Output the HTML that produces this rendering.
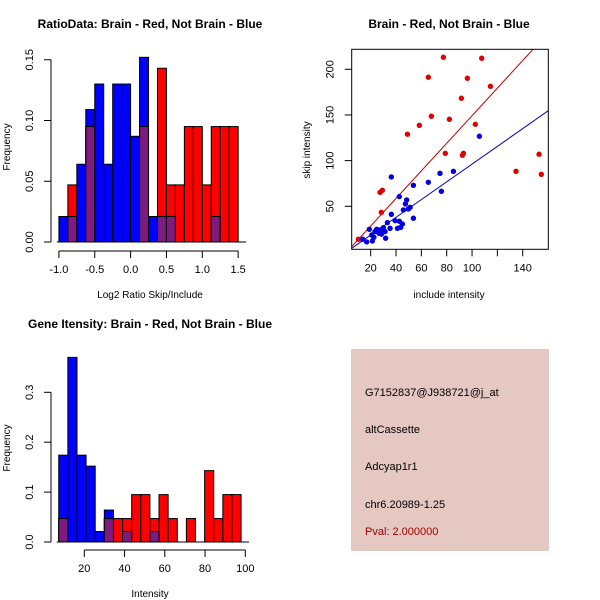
<!DOCTYPE html>
<html><head><meta charset="utf-8"><style>
body{margin:0;background:#fff}
svg{display:block;font-family:"Liberation Sans",Arial,sans-serif}
</style></head><body>
<svg id="c" width="600" height="600" viewBox="0 0 600 600">
<rect width="600" height="600" fill="#fff"/>
<g id="p1"></g>
<g id="p2"></g>
<g id="p3"></g>
<g>
<rect x="351" y="349" width="198" height="202" fill="#E6C8C2"/>
<text x="365" y="396" font-size="11" fill="#000">G7152837@J938721@j_at</text>
<text x="365" y="433" font-size="11" fill="#000">altCassette</text>
<text x="365" y="470" font-size="11" fill="#000">Adcyap1r1</text>
<text x="365" y="508" font-size="11" fill="#000">chr6.20989-1.25</text>
<text x="365" y="535" font-size="11" fill="#a00000">Pval: 2.000000</text>
</g>
</svg>
<script>
// ---- Ratio histogram data ----
const ratioBinStart = -1.0;
const ratioBinWidth = 0.125;
const ratioRed  = [0,0.047,0,0.095,0,0,0,0,0,0.095,0,0.143,0.047,0.047,0.095,0.095,0.047,0.095,0.095,0.095];
const ratioBlue = [0.021,0.021,0.064,0.109,0.130,0.064,0.130,0.130,0.087,0.152,0.021,0.021,0.021,0,0,0,0,0.021,0,0];
const ratioXTicks = [-1.0,-0.5,0.0,0.5,1.0,1.5];
const ratioYTicks = [0.00,0.05,0.10,0.15];
// ---- Intensity histogram data ----
const intBinStart = 7.3;
const intBinWidth = 4.53;
const intRed  = [0.047,0,0,0,0,0.047,0.047,0.047,0.095,0.095,0.047,0.095,0.047,0,0.047,0,0.143,0.047,0.095,0.095];
const intBlue = [0.174,0.370,0.174,0.152,0.021,0.064,0,0.021,0,0,0.021,0,0,0,0,0,0,0,0,0];
const intXTicks = [20,40,60,80,100];
const intYTicks = [0.0,0.1,0.2,0.3];
// ---- Scatter data ----
const redX  = [10.3,27.4,29.2,28.4,49.0,58.4,65.5,67.9,77.4,78.9,82.1,91.6,92.4,93.2,96.3,102.6,107.6,114.5,134.7,152.9,154.7];
const redY  = [13.9,65.3,67.5,43.4,128.9,138.7,191.3,148.6,213.2,108.0,145.3,168.3,105.9,108.0,190.2,139.8,212.1,181.4,88.3,107.0,85.0];
const blueX = [18.9,13.7,16.8,21.3,20.8,23.4,24.7,27.4,26.6,30.0,31.3,33.2,31.8,35.3,36.3,36.3,39.2,41.1,42.6,42.6,43.7,45.0,45.8,47.4,48.4,49.7,51.1,53.7,53.7,65.5,74.7,75.8,85.3,105.8,28.5,22.5];
const blueY = [24.8,13.9,11.0,12.0,18.6,22.3,24.8,24.1,20.4,26.6,22.3,32.1,15.0,25.9,41.2,82.1,34.3,25.9,33.6,60.6,27.0,30.6,46.0,52.6,56.9,47.1,48.9,73.0,36.9,76.3,86.1,66.4,88.3,126.7,19.5,16.0];
const redFit = [1.51,-1.8];   // slope, intercept
const blueFit = [0.971,-0.9];
const scXTicks = [20,40,60,80,100,120,140];
const scXLabels = ["20","40","60","80","100","","140"];
const scYTicks = [50,100,150,200];

const NS="http://www.w3.org/2000/svg";
function mk(parent,tag,attrs,txt){const e=document.createElementNS(NS,tag);for(const k in attrs)e.setAttribute(k,attrs[k]);if(txt!==undefined)e.textContent=txt;parent.appendChild(e);return e;}
const RED="#ff0000",BLUE="#0000ff",PURPLE="#7f1a7f";

function histogram(g,o){
  const sx=v=>o.x0px+(v-o.x0)*o.xs, sy=v=>o.y0px-v*o.ys;
  for(let i=0;i<o.red.length;i++){
    const a=o.binStart+i*o.binW,b=a+o.binW;
    const r=o.red[i],bl=o.blue[i],m=Math.min(r,bl);
    const parts=[[r,RED],[bl,BLUE],[m,PURPLE]];
    parts.forEach(([v,c],k)=>{ if(v<=0)return;
      const el=mk(g,'rect',{x:sx(a),y:sy(v),width:sx(b)-sx(a),height:sy(0)-sy(v),fill:c,stroke:'#000','stroke-width':1});
      
      
    });
  }
  const ya=mk(g,'line',{x1:o.axX,x2:o.axX,y1:sy(o.yTicks[0]),y2:sy(o.yTicks[o.yTicks.length-1]),stroke:'#000'});
  
  o.yTicks.forEach(t=>{
    mk(g,'line',{x1:o.axX-7,x2:o.axX,y1:sy(t),y2:sy(t),stroke:'#000'});
    const tx=mk(g,'text',{x:o.axX-18,y:sy(t),'font-size':11,'text-anchor':'middle',transform:`rotate(-90 ${o.axX-18} ${sy(t)})`},o.yFmt(t));
    
  });
  const bl=mk(g,'line',{x1:sx(o.binStart)-2,x2:sx(o.binStart+o.red.length*o.binW)+8,y1:sy(0),y2:sy(0),stroke:'#000'});
  
  const xa=mk(g,'line',{x1:sx(o.xTicks[0]),x2:sx(o.xTicks[o.xTicks.length-1]),y1:o.axY,y2:o.axY,stroke:'#000'});
  
  o.xTicks.forEach(t=>{
    mk(g,'line',{x1:sx(t),x2:sx(t),y1:o.axY,y2:o.axY+7,stroke:'#000'});
    const tx=mk(g,'text',{x:sx(t),y:o.axY+22,'font-size':11,'text-anchor':'middle'},o.xFmt(t));
    
  });
  const xt=mk(g,'text',{x:o.xTitleX,y:o.axY+47,'font-size':10,'text-anchor':'middle'},o.xTitle);
  
  const yt=mk(g,'text',{x:10,y:o.yTitleY,'font-size':10,'text-anchor':'middle',transform:`rotate(-90 10 ${o.yTitleY})`},'Frequency');
  
  const ti=mk(g,'text',{x:o.titleX,y:o.titleY,'font-size':12,'font-weight':'bold','text-anchor':'middle'},o.title);
  
}

histogram(document.getElementById('p1'),{
  red:ratioRed,blue:ratioBlue,binStart:ratioBinStart,binW:ratioBinWidth,
  x0:-1.0,x0px:58.9,xs:71.7,y0px:242,ys:1215,axX:51,axY:251,
  xTicks:ratioXTicks,yTicks:ratioYTicks,xFmt:t=>t.toFixed(1),yFmt:t=>t.toFixed(2),
  xTitle:'Log2 Ratio Skip/Include',xTitleX:150,yTitleY:147,title:'RatioData: Brain - Red, Not Brain - Blue',titleX:150,titleY:28});

histogram(document.getElementById('p3'),{
  red:intRed,blue:intBlue,binStart:intBinStart,binW:intBinWidth,
  x0:20,x0px:84.3,xs:2.0125,y0px:542,ys:499,axX:51,axY:550,
  xTicks:intXTicks,yTicks:intYTicks,xFmt:t=>String(t),yFmt:t=>t.toFixed(1),
  xTitle:'Intensity',xTitleX:150,yTitleY:448,title:'Gene Itensity: Brain - Red, Not Brain - Blue',titleX:150,titleY:328});

(function(){
  const g=document.getElementById('p2');
  const L=351.7,R=548.3,T=49.3,B=249.3,xmin=5,xmax=160.2,ymin=2.9,ymax=221.9;
  const sx=v=>L+(v-xmin)/(xmax-xmin)*(R-L), sy=v=>B-(v-ymin)/(ymax-ymin)*(B-T);
  mk(g,'clipPath',{id:'clip'}).appendChild(document.createElementNS(NS,'rect'));
  const cr=g.querySelector('#clip rect');cr.setAttribute('x',L);cr.setAttribute('y',T);cr.setAttribute('width',R-L);cr.setAttribute('height',B-T);
  [[redFit,'#c00000','red-fit-line'],[blueFit,'#0000b0','blue-fit-line']].forEach(([f,c,n])=>{
    const l=mk(g,'line',{x1:sx(xmin),y1:sy(f[0]*xmin+f[1]),x2:sx(xmax),y2:sy(f[0]*xmax+f[1]),stroke:c,'stroke-width':1,'clip-path':'url(#clip)'});
    
  });
  redX.forEach((x,i)=>{const p=mk(g,'circle',{cx:sx(x),cy:sy(redY[i]),r:2.7,fill:'#e00000'});
    });
  blueX.forEach((x,i)=>{const p=mk(g,'circle',{cx:sx(x),cy:sy(blueY[i]),r:2.7,fill:'#0000e0'});
    });
  const box=mk(g,'rect',{x:L,y:T,width:R-L,height:B-T,fill:'none',stroke:'#000'});
  
  scXTicks.forEach((t,i)=>{
    mk(g,'line',{x1:sx(t),x2:sx(t),y1:B,y2:B+7,stroke:'#000'});
    const tx=mk(g,'text',{x:sx(t),y:B+22,'font-size':11,'text-anchor':'middle'},scXLabels[i]);
    
  });
  scYTicks.forEach(t=>{
    mk(g,'line',{x1:L-7,x2:L,y1:sy(t),y2:sy(t),stroke:'#000'});
    const tx=mk(g,'text',{x:L-18,y:sy(t),'font-size':11,'text-anchor':'middle',transform:`rotate(-90 ${L-18} ${sy(t)})`},String(t));
    
  });
  const xt=mk(g,'text',{x:449,y:298,'font-size':10,'text-anchor':'middle'},'include intensity');
  
  const yt=mk(g,'text',{x:310,y:150,'font-size':10,'text-anchor':'middle',transform:'rotate(-90 310 150)'},'skip intensity');
  
  const ti=mk(g,'text',{x:449,y:28,'font-size':12,'font-weight':'bold','text-anchor':'middle'},'Brain - Red, Not Brain - Blue');
  
})();
</script>
</body></html>
